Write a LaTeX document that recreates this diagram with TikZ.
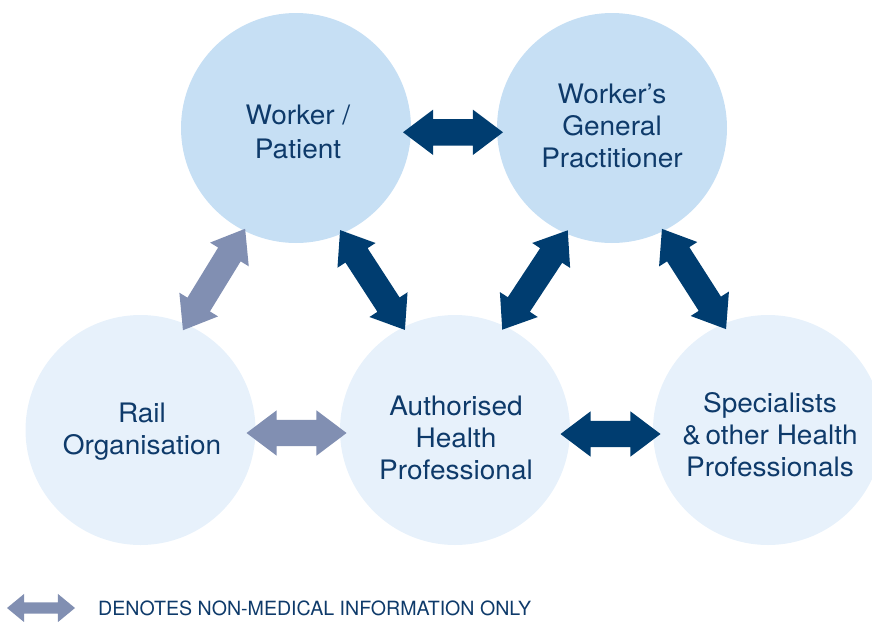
\documentclass[tikz,border=0pt]{standalone}
\usepackage{fontspec}
\setmainfont{TeX Gyre Heros}
\newfontfamily\lblfont{TeX Gyre Heros}[FakeStretch=1.045]
\usetikzlibrary{shapes.arrows}
\definecolor{circTop}{RGB}{198,223,244}
\definecolor{circBot}{RGB}{231,241,251}
\definecolor{arrDark}{RGB}{0,61,112}
\definecolor{arrLight}{RGB}{129,143,178}
\definecolor{txtBlue}{RGB}{14,58,106}
\newcommand{\shaftbox}[1]{\rule{0pt}{#1}}
\tikzset{
  circ/.style={circle, draw=none, inner sep=0pt, minimum size=230pt},
  lbl/.style={align=center, text=txtBlue, inner sep=0pt, font=\lblfont\fontsize{26.8}{32}\selectfont},
  dblarr/.style={double arrow, draw=none, inner sep=0pt, minimum width=45pt,
    double arrow head extend=9.5pt, double arrow tip angle=74, anchor=center},
  harr/.style={dblarr, minimum height=100pt},
  darr/.style={dblarr, minimum height=119pt},
}
\begin{document}
\begin{tikzpicture}[x=1pt,y=-1pt]
\useasboundingbox (0,0) rectangle (872,621);
\clip (0,0) rectangle (872,621);
% circles
\node[circ, fill=circTop] (wp) at (296,128) {};
\node[circ, fill=circTop] (gp) at (612,128) {};
\node[circ, fill=circBot] (rail) at (140.5,430) {};
\node[circ, fill=circBot] (ahp) at (455,430) {};
\node[circ, fill=circBot] (spec) at (768,430) {};
% labels
\node[lbl, font=\lblfont\fontsize{26.8}{34}\selectfont] (wpT) at (298,131.7) {Worker /\\Patient};
\node[lbl] (gpT) at (612,126.3) {Worker’s\\General\\Practitioner};
\node[lbl] (railT) at (142,432) {Rail\\Organisation};
\node[lbl] (ahpT) at (456,437.5) {Authorised\\Health\\Professional};
\node[lbl] (specT) at (770,434.5) {Specialists\\\&\,other Health\\Professionals};
% connectors
\path (wp) -- (gp) node[harr, fill=arrDark, midway, xshift=-1pt, yshift=-4.3pt] (a1) {\shaftbox{26pt}};
\path (rail) -- (ahp) node[harr, fill=arrLight, midway, xshift=-1.2pt, yshift=-3pt] (a2) {\shaftbox{26pt}};
\path (ahp) -- (spec) node[harr, fill=arrDark, midway, xshift=-1pt, yshift=-4pt] (a3) {\shaftbox{26pt}};
\path (wp) -- (rail) node[darr, fill=arrLight, midway, xshift=-4.2pt, yshift=-0.5pt, rotate=58.5] (a4) {\shaftbox{26pt}};
\path (wp) -- (ahp) node[darr, fill=arrDark, midway, xshift=-3pt, yshift=-1pt, rotate=-57] (a5) {\shaftbox{26pt}};
\path (gp) -- (ahp) node[darr, fill=arrDark, midway, xshift=1.5pt, yshift=-1pt, rotate=56.6] (a6) {\shaftbox{26pt}};
\path (gp) -- (spec) node[darr, fill=arrDark, midway, xshift=4pt, rotate=-57.4] (a7) {\shaftbox{26pt}};
% legend
\node[double arrow, draw=none, fill=arrLight, inner sep=0pt, minimum width=28pt,
  minimum height=68pt, double arrow head extend=8.5pt, double arrow tip angle=79] (legArr) at (41,608) {\shaftbox{11pt}};
\node[anchor=base west, inner sep=0pt, text=txtBlue, font=\fontsize{19.6}{22}\selectfont] (legTxt) at (98,615) {DENOTES NON-MEDICAL INFORMATION ONLY};
\end{tikzpicture}
\end{document}
